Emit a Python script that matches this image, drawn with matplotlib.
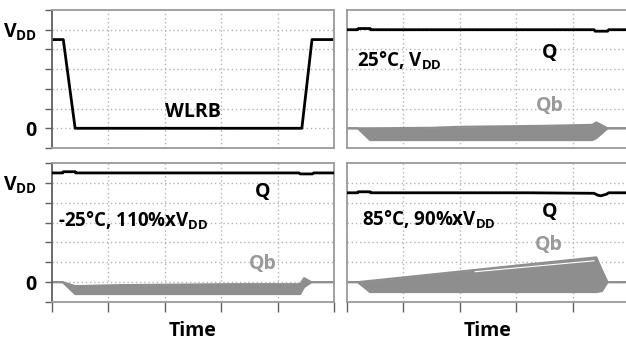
import matplotlib
matplotlib.use("Agg")
import matplotlib.pyplot as plt

plt.rcParams['font.family'] = ['Open Sans', 'DejaVu Sans']
plt.rcParams['mathtext.fontset'] = 'custom'
plt.rcParams['mathtext.rm'] = 'Open Sans:bold'
plt.rcParams['mathtext.bf'] = 'Open Sans:bold'

# ---------------- data ----------------
y_tick_labels = ['$\\mathbf{V_{DD}}$', '0']

# WLRB (top-left)
t_wl = [0, 0.2, 0.41, 4.43, 4.61, 5.0]
v_wl = [0.9, 0.9, 0.0, 0.0, 0.9, 0.9]

# Q lines
t_q = [0, 0.19, 0.2, 0.41, 0.42, 4.38, 4.4, 4.62, 4.64, 5.0]
q_25 = [1.0, 1.0, 1.012, 1.012, 1.0, 1.0, 0.985, 0.985, 1.0, 1.0]
q_m25 = [1.1, 1.1, 1.112, 1.112, 1.1, 1.1, 1.09, 1.09, 1.1, 1.1]
t_q85 = [0, 0.19, 0.2, 0.41, 0.42, 3.2, 4.38, 4.45, 4.5, 4.6, 4.64, 5.0]
q_85 = [0.9, 0.9, 0.91, 0.91, 0.9, 0.9, 0.895, 0.875, 0.87, 0.885, 0.9, 0.9]

# Qb bands (upper / lower envelope)
t_qb25 = [0, 0.19, 0.41, 1.5, 2.0, 3.5, 4.35, 4.42, 4.62, 5.0]
qb25_hi = [0, 0, 0.0, 0.005, 0.015, 0.025, 0.035, 0.06, 0, 0]
qb25_lo = [0, 0, -0.12, -0.12, -0.12, -0.12, -0.12, -0.1, 0, 0]

t_qbm25 = [0, 0.19, 0.41, 1.2, 3.2, 4.4, 4.47, 4.6, 5.0]
qbm25_hi = [0, 0, -0.04, -0.03, -0.02, -0.02, 0.04, 0.0, 0]
qbm25_lo = [0, 0, -0.12, -0.12, -0.12, -0.12, -0.05, 0.0, 0]

t_qb85 = [0, 0.19, 0.41, 4.42, 4.52, 4.62, 5.0]
qb85_hi = [0, 0, 0.013, 0.25, 0.12, 0, 0]
qb85_lo = [0, 0, -0.1, -0.1, -0.09, 0, 0]
t_white = [2.27, 4.38]
v_white = [0.105, 0.215]

# ---------------- style ----------------
W, H = 626, 342
fig = plt.figure(figsize=(W / 100, H / 100), dpi=100)

def px_axes(x0, y0, x1, y1):
    return fig.add_axes([x0 / W, 1 - y1 / H, (x1 - x0) / W, (y1 - y0) / H])

GRID = '#b4b4b4'
FRAME = '#9a9a9a'
QB = '#8e8e8e'
QBTXT = '#9a9a9a'

def style(ax, left, bottom):
    ax.set_xlim(0, 5)
    ax.set_ylim(-0.2, 1.2)
    for x in [1, 2, 3, 4]:
        ax.axvline(x, color=GRID, lw=1, ls=(0, (1, 2)), zorder=0)
    for y in [0, 0.2, 0.4, 0.6, 0.8, 1.0]:
        ax.axhline(y, color=GRID, lw=1, ls=(0, (1, 2)), zorder=0)
    for s in ax.spines.values():
        s.set_color(FRAME)
        s.set_linewidth(1.3)
    if left:
        ax.spines['left'].set_color('#606060')
        ax.set_yticks([-0.2, 0, 0.2, 0.4, 0.6, 0.8, 1.0, 1.2])
        ax.set_yticklabels(['', '0', '', '', '', '', y_tick_labels[0], ''],
                           fontsize=14, fontweight='bold')
        ax.tick_params(axis='y', direction='out', length=5, width=1,
                       color='#606060', pad=6)
    else:
        ax.set_yticks([])
    if bottom:
        ax.set_xticks([0, 1, 2, 3, 4, 5])
        ax.set_xticklabels([])
        ax.tick_params(axis='x', direction='out', length=7, width=1,
                       color='#606060')
        ax.set_xlabel('Time', fontsize=14, fontweight='bold', labelpad=3)
    else:
        ax.set_xticks([])

ax_tl = px_axes(52, 10, 334, 148)
ax_tr = px_axes(347, 10, 629, 148)
ax_bl = px_axes(52, 163, 334, 302)
ax_br = px_axes(347, 163, 629, 302)

style(ax_tl, True, False)
style(ax_tr, False, False)
style(ax_bl, True, True)
style(ax_br, False, True)

# top-left: WLRB
ax_tl.plot(t_wl, v_wl, color='black', lw=2)
ax_tl.text(2.5, 0.17, 'WLRB', ha='center', va='center', fontsize=14,
           fontweight='bold')

def panel(ax, tq, q, tqb, hi, lo, label, lx, ly, qpos, qbpos):
    ax.fill_between(tqb, lo, hi, color=QB, lw=0, zorder=2)
    ax.plot(tqb, hi, color=QB, lw=1.5, zorder=2)
    ax.plot(tqb, lo, color=QB, lw=1.5, zorder=2)
    ax.plot(tq, q, color='black', lw=2, zorder=3)
    ax.text(lx, ly, label, ha='left', va='baseline', fontsize=13.5,
            fontweight='bold')
    ax.text(qpos[0], qpos[1], 'Q', ha='center', va='center', fontsize=14,
            fontweight='bold')
    ax.text(qbpos[0], qbpos[1], 'Qb', ha='center', va='center', fontsize=14,
            fontweight='bold', color=QBTXT)

panel(ax_tr, t_q, q_25, t_qb25, qb25_hi, qb25_lo,
      '25°C, V$_{\\mathrm{DD}}$', 0.18, 0.62, (3.6, 0.76), (3.6, 0.23))
panel(ax_bl, t_q, q_m25, t_qbm25, qbm25_hi, qbm25_lo,
      '-25°C, 110%xV$_{\\mathrm{DD}}$', 0.1, 0.56, (3.74, 0.91), (3.73, 0.18))
panel(ax_br, t_q85, q_85, t_qb85, qb85_hi, qb85_lo,
      '85°C, 90%xV$_{\\mathrm{DD}}$', 0.27, 0.57, (3.6, 0.71), (3.58, 0.37))
ax_br.plot(t_white, v_white, color='white', lw=0.8, zorder=2.5)

fig.savefig('out.png', dpi=100)
